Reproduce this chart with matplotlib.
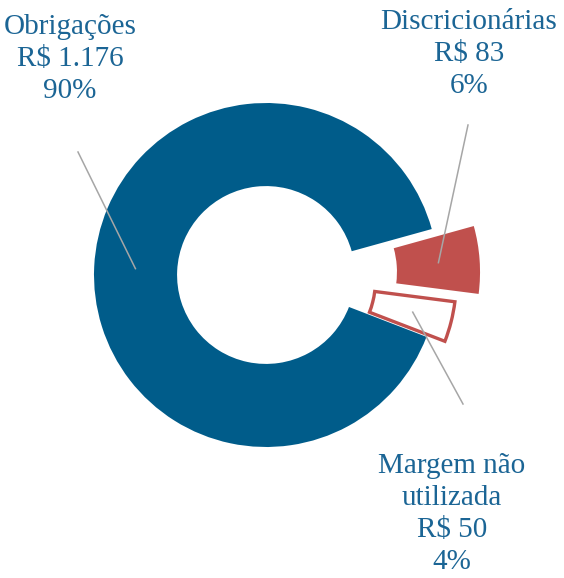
import numpy as np
import matplotlib.pyplot as plt

# Dados (R$ bilhões)
categorias = ['Obrigações', 'Margem não\nutilizada', 'Discricionárias']
valores = [1176, 50, 83]
cores = ['#005C8A', '#FFFFFF', '#C0504D']
bordas = ['#005C8A', '#C0504D', '#C0504D']
explode = [0.0, 0.12, 0.245]

COR_TEXTO = '#1B6595'
COR_LINHA = '#A6A6A6'

W, H = 564, 578
CX, CY, R = 266, 275, 172   # centro e raio da rosca em pixels


def px(x, y):
    # converte pixel (origem no topo) para coordenadas do eixo
    return (x - CX) / R, (CY - y) / R


fig = plt.figure(figsize=(W / 100, H / 100), dpi=100)
ax = fig.add_axes([0, 0, 1, 1])

wedges, _ = ax.pie(valores, colors=cores, startangle=15.5, counterclock=True,
                   explode=explode, radius=1.0,
                   wedgeprops=dict(width=0.483, linewidth=0))
for w, b, c in zip(wedges, bordas, cores):
    if c == '#FFFFFF':
        w.set_edgecolor(b)
        w.set_linewidth(2.4)
        w.set_joinstyle('miter')
        w.set_radius(0.99)
        w.set_width(0.47)

total = sum(valores)
# posições dos rótulos (pixels) e ponta da linha guia
pos_texto = [(70, 59), (452, 514), (469, 54)]
ponta_linha = [(78, 152), (463, 404), (468, 125)]

for w, cat, v, e, pt, pl in zip(wedges, categorias, valores, explode, pos_texto, ponta_linha):
    th = np.deg2rad((w.theta1 + w.theta2) / 2)
    rr = 0.76 + e
    x0, y0 = rr * np.cos(th), rr * np.sin(th)
    x1, y1 = px(*pl)
    ax.plot([x0, x1], [y0, y1], color=COR_LINHA, lw=1.1, zorder=5)
    pct = round(100 * v / total)
    valor = f"{v:,}".replace(',', '.')
    tx, ty = px(*pt)
    ax.text(tx, ty, f"{cat}\nR$ {valor}\n{pct}%", ha='center', va='center',
            color=COR_TEXTO, fontsize=21, family='Liberation Serif', linespacing=1.3)

x_lo, y_hi = px(0, 0)
x_hi, y_lo = px(W, H)
ax.set_xlim(x_lo, x_hi)
ax.set_ylim(y_lo, y_hi)
ax.set_aspect('auto')
ax.axis('off')

fig.savefig('out.png', dpi=100)
